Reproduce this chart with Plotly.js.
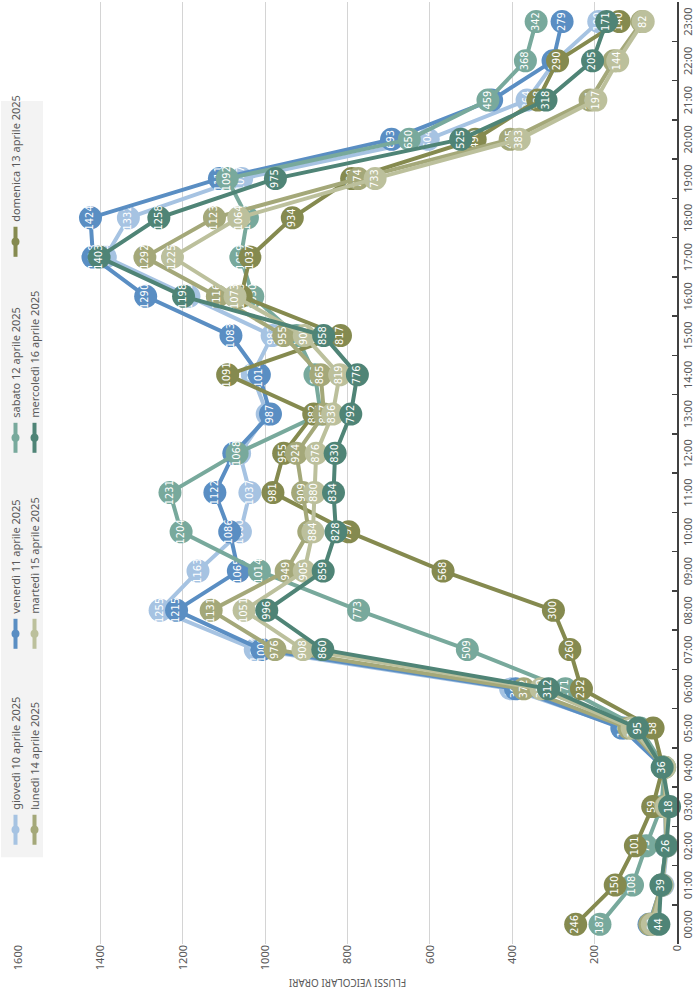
<!DOCTYPE html>
<html>
<head>
<meta charset="utf-8">
<script src="https://cdn.plot.ly/plotly-3.0.1.min.js"></script>
<style>
  html, body { margin: 0; padding: 0; background: #ffffff; }
  #wrap { position: relative; width: 700px; height: 1000px; overflow: hidden; background: #ffffff; }
  #chart { position: absolute; left: 0; top: 0; width: 1000px; height: 700px;
           transform-origin: 0 0; transform: translateY(1000px) rotate(-90deg); }
</style>
</head>
<body>
<div id="wrap"><div id="chart"></div></div>
<script>
// Hours (category axis)
const hours = ['00:00','01:00','02:00','03:00','04:00','05:00','06:00','07:00','08:00','09:00','10:00','11:00',
               '12:00','13:00','14:00','15:00','16:00','17:00','18:00','19:00','20:00','21:00','22:00','23:00'];

// Series names
const seriesNames = ['giovedì 10 aprile 2025','venerdì 11 aprile 2025','sabato 12 aprile 2025',
                     'domenica 13 aprile 2025','lunedì 14 aprile 2025','martedì 15 aprile 2025',
                     'mercoledì 16 aprile 2025'];

// Hourly traffic flows
const giovedi   = [64, 34, 24, 26, 32, 127, 404, 1024, 1255, 1163, 1060, 1037, 1062, 995, 1031, 983, 1185, 1388, 1332, 1057, 604, 364, 295, 190];
const venerdi   = [68, 37, 27, 28, 33, 134, 392, 1008, 1215, 1065, 1086, 1122, 1076, 987, 1014, 1083, 1290, 1418, 1424, 1111, 693, 450, 301, 279];
const sabato    = [187, 108, 75, 38, 30, 90, 271, 509, 773, 1014, 1204, 1231, 1068, 865, 879, 924, 1030, 1059, 1043, 1092, 650, 459, 368, 342];
const domenica  = [246, 150, 101, 59, 34, 58, 232, 260, 300, 568, 797, 981, 955, 882, 1091, 817, 1058, 1037, 934, 790, 490, 338, 290, 140];
const lunedi    = [66, 38, 26, 28, 31, 117, 372, 976, 1131, 949, 894, 909, 924, 857, 865, 955, 1116, 1292, 1123, 774, 405, 211, 153, 85];
const martedi   = [60, 36, 25, 26, 30, 109, 330, 908, 1051, 905, 884, 880, 876, 836, 819, 905, 1073, 1225, 1064, 733, 383, 197, 144, 82];
const mercoledi = [44, 39, 26, 18, 36, 95, 312, 860, 996, 859, 828, 834, 830, 792, 776, 858, 1198, 1403, 1258, 975, 525, 318, 205, 171];

const seriesValues = [giovedi, venerdi, sabato, domenica, lunedi, martedi, mercoledi];
const seriesColors = ['#a6c3e2', '#5a8ec3', '#78a99c', '#858a4f', '#a4a879', '#bcc09c', '#4f8476'];

const yTicks = [0, 200, 400, 600, 800, 1000, 1200, 1400, 1600];

const FONT = 'Noto Sans, Open Sans, Liberation Sans, sans-serif';
const LABEL_FONT = 'Liberation Sans Narrow, DejaVu Sans Condensed, Noto Sans, sans-serif';
const traces = [];
seriesValues.forEach((vals, i) => {
  traces.push({
    type: 'scatter',
    mode: 'lines+markers+text',
    name: seriesNames[i],
    legendgroup: 'g' + i,
    showlegend: false,
    x: hours,
    y: vals,
    text: vals.map(v => String(v)),
    textposition: 'middle center',
    textfont: { color: '#ffffff', size: 11, family: LABEL_FONT },
    line: { color: seriesColors[i], width: 4 },
    marker: { color: seriesColors[i], size: 23, line: { width: 0 } },
    cliponaxis: false,
    hoverinfo: 'skip'
  });
});
// legend entries
seriesValues.forEach((vals, i) => {
  traces.push({
    type: 'scatter',
    mode: 'lines+markers',
    name: seriesNames[i],
    legendgroup: 'g' + i,
    showlegend: true,
    x: [null],
    y: [null],
    line: { color: seriesColors[i], width: 4 },
    marker: { color: seriesColors[i], size: 8 },
    hoverinfo: 'skip'
  });
});

const L = 56, R = 2, T = 17, B = 23;
const plotH = 700 - T - B;
const px2y = p => 1 - (p - T) / plotH;
const LEG_X = 0.10;

const layout = {
  width: 1000,
  height: 700,
  margin: { l: L, r: R, t: T, b: B, pad: 0 },
  paper_bgcolor: '#ffffff',
  plot_bgcolor: '#ffffff',
  font: { family: FONT, color: '#595959', size: 11 },
  showlegend: true,
  legend: {
    orientation: 'h',
    x: LEG_X, xanchor: 'left',
    y: px2y(1), yanchor: 'top',
    entrywidth: 151, entrywidthmode: 'pixels',
    bgcolor: 'rgba(0,0,0,0)',
    font: { family: FONT, size: 11, color: '#595959' },
    itemwidth: 30,
    tracegroupgap: 0
  },
  shapes: [{
    type: 'rect', xref: 'paper', yref: 'paper', layer: 'below',
    x0: LEG_X - 0.008, x1: 0.895, y0: px2y(42), y1: px2y(0),
    fillcolor: '#f3f3f3', line: { width: 0 }
  }],
  xaxis: {
    type: 'category',
    categoryorder: 'array',
    categoryarray: hours,
    range: [-0.5, 23.5],
    showline: true, linecolor: '#404040', linewidth: 1.5,
    ticks: 'inside', tickson: 'boundaries', ticklen: 5, tickcolor: '#404040', tickwidth: 1.5,
    showgrid: false, zeroline: false,
    tickfont: { family: FONT, size: 11, color: '#595959' },
    fixedrange: true
  },
  yaxis: {
    range: [0, 1600],
    tickvals: yTicks,
    ticktext: yTicks.map(String),
    showgrid: true, gridcolor: '#d4d4d4', gridwidth: 1,
    showline: false, zeroline: false, ticks: '',
    tickfont: { family: FONT, size: 11, color: '#595959' },
    title: { text: 'FLUSSI VEICOLARI ORARI', font: { family: FONT, size: 10, color: '#595959' }, standoff: 6 },
    fixedrange: true
  }
};

Plotly.newPlot('chart', traces, layout, { staticPlot: true, displayModeBar: false });
</script>
</body>
</html>
